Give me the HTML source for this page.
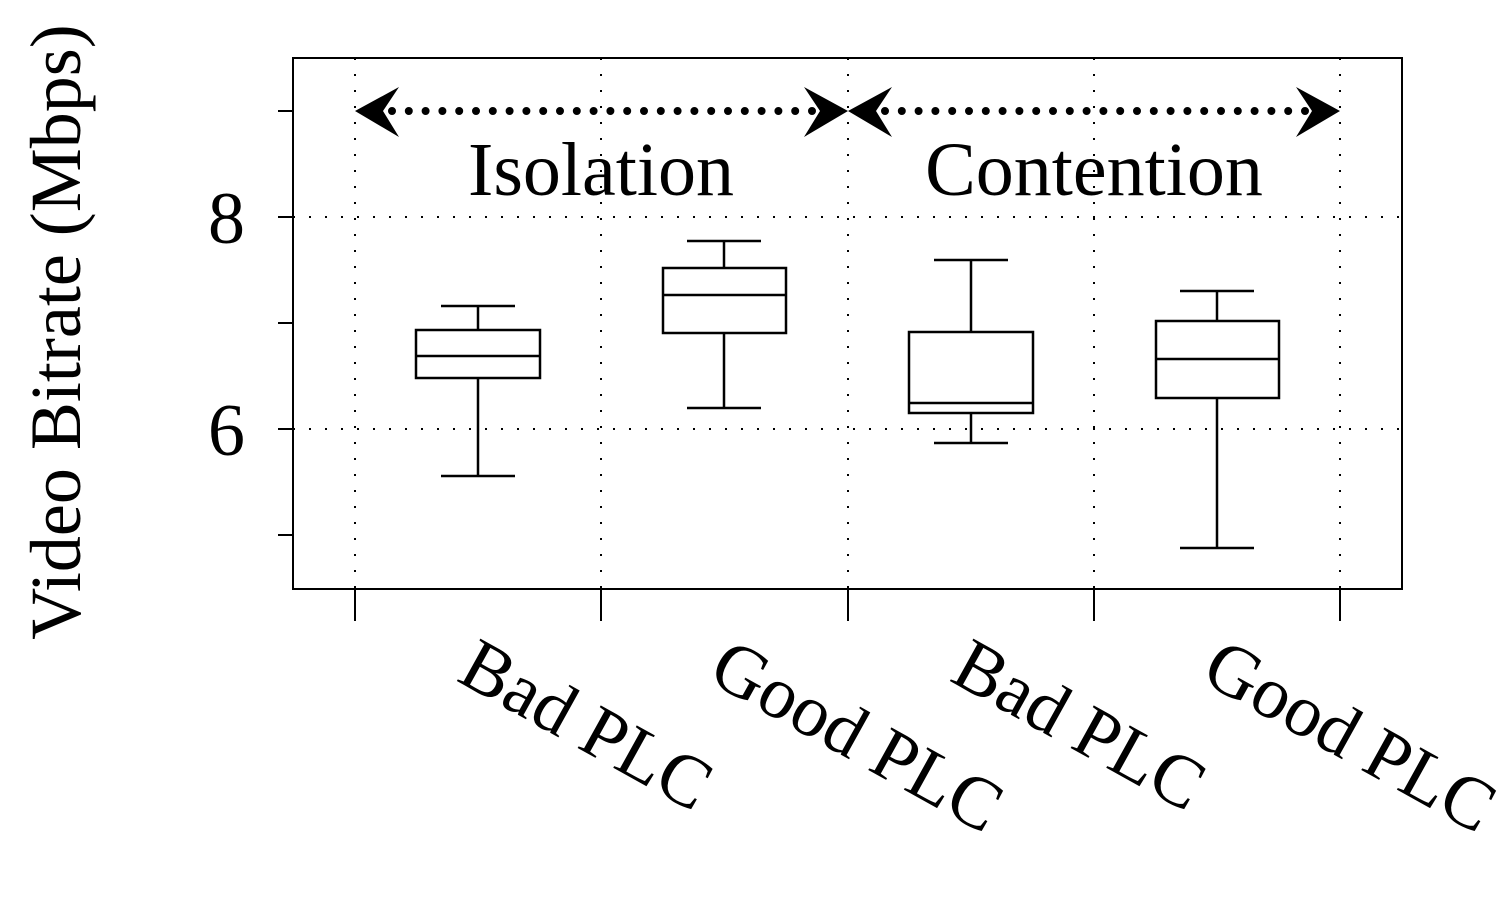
<!DOCTYPE html>
<html><head><style>body{margin:0;background:#fff}</style></head><body>
<svg width="1500" height="900" xmlns="http://www.w3.org/2000/svg" font-family="Liberation Serif, serif">
<rect width="1500" height="900" fill="#fff"/>
<g stroke="#000" stroke-width="2" stroke-dasharray="2,14" fill="none">
<line x1="293" y1="217" x2="1402" y2="217"/>
<line x1="293" y1="429" x2="1402" y2="429"/>
<line x1="355" y1="58" x2="355" y2="589"/>
<line x1="601" y1="58" x2="601" y2="589"/>
<line x1="848" y1="58" x2="848" y2="589"/>
<line x1="1094" y1="58" x2="1094" y2="589"/>
<line x1="1340" y1="58" x2="1340" y2="589"/>
</g>
<rect x="293" y="58" width="1109" height="531" fill="none" stroke="#000" stroke-width="2"/>
<g stroke="#000" stroke-width="2">
<line x1="278" y1="111" x2="293" y2="111"/><line x1="278" y1="217" x2="293" y2="217"/>
<line x1="278" y1="323" x2="293" y2="323"/><line x1="278" y1="429" x2="293" y2="429"/>
<line x1="278" y1="535" x2="293" y2="535"/>
<line x1="355" y1="589" x2="355" y2="621"/><line x1="601" y1="589" x2="601" y2="621"/>
<line x1="848" y1="589" x2="848" y2="621"/><line x1="1094" y1="589" x2="1094" y2="621"/>
<line x1="1340" y1="589" x2="1340" y2="621"/>
</g>
<g font-size="74" text-anchor="end"><text x="245" y="243">8</text><text x="245" y="455">6</text></g>
<text transform="translate(80,332) rotate(-90)" font-size="72" text-anchor="middle">Video Bitrate (Mbps)</text>
<g stroke="#000" stroke-width="8" stroke-linecap="round" stroke-dasharray="0,16.8" fill="none">
<line x1="392" y1="111" x2="815" y2="111"/>
<line x1="885" y1="111" x2="1308" y2="111"/>
</g>
<g fill="#000">
<path d="M355 111 L399 87 L383 111 L399 137 Z"/>
<path d="M848 111 L804 87 L820 111 L804 137 Z"/>
<path d="M848 111 L892 87 L876 111 L892 137 Z"/>
<path d="M1340 111 L1296 87 L1312 111 L1296 137 Z"/>
</g>
<g font-size="76" text-anchor="middle"><text x="601" y="195">Isolation</text><text x="1094" y="195">Contention</text></g>
<g stroke="#000" stroke-width="2.5" fill="none">
<line x1="441" y1="306" x2="515" y2="306"/><line x1="478" y1="306" x2="478" y2="330"/>
<rect x="416" y="330" width="124" height="48"/><line x1="416" y1="356" x2="540" y2="356"/>
<line x1="478" y1="378" x2="478" y2="476"/><line x1="441" y1="476" x2="515" y2="476"/>
<line x1="687" y1="241" x2="761" y2="241"/><line x1="724" y1="241" x2="724" y2="268"/>
<rect x="663" y="268" width="123" height="65"/><line x1="663" y1="295" x2="786" y2="295"/>
<line x1="724" y1="333" x2="724" y2="408"/><line x1="687" y1="408" x2="761" y2="408"/>
<line x1="934" y1="260" x2="1008" y2="260"/><line x1="971" y1="260" x2="971" y2="332"/>
<rect x="909" y="332" width="124" height="81"/><line x1="909" y1="403" x2="1033" y2="403"/>
<line x1="971" y1="413" x2="971" y2="443"/><line x1="934" y1="443" x2="1008" y2="443"/>
<line x1="1180" y1="291" x2="1254" y2="291"/><line x1="1217" y1="291" x2="1217" y2="321"/>
<rect x="1156" y="321" width="123" height="77"/><line x1="1156" y1="359" x2="1279" y2="359"/>
<line x1="1217" y1="398" x2="1217" y2="548"/><line x1="1180" y1="548" x2="1254" y2="548"/>
</g>
<g font-size="74">
<text transform="translate(455,680) rotate(29)">Bad PLC</text>
<text transform="translate(706,680) rotate(29)">Good PLC</text>
<text transform="translate(948,680) rotate(29)">Bad PLC</text>
<text transform="translate(1199,680) rotate(29)">Good PLC</text>
</g>
</svg>
</body></html>
